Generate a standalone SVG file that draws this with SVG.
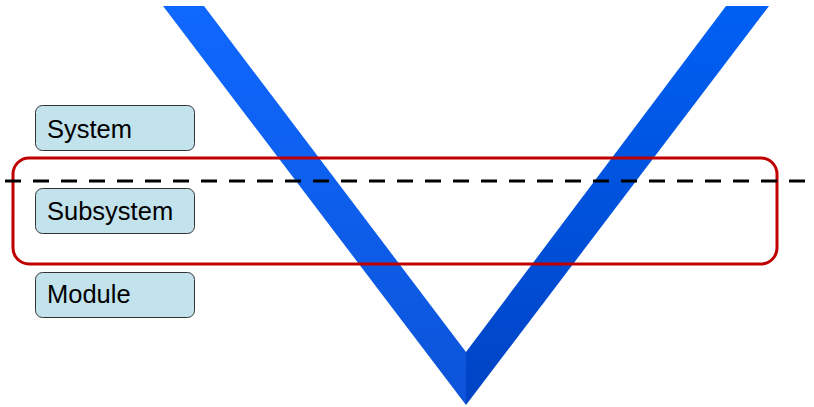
<svg xmlns="http://www.w3.org/2000/svg" width="814" height="407" viewBox="0 0 814 407">
<defs>
<linearGradient id="gL" x1="0" y1="0" x2="0" y2="1">
<stop offset="0" stop-color="#0f68ff"/>
<stop offset="1" stop-color="#0c54d8"/>
</linearGradient>
<linearGradient id="gR" x1="0" y1="0" x2="0" y2="1">
<stop offset="0" stop-color="#0060f4"/>
<stop offset="1" stop-color="#0043c4"/>
</linearGradient>
<style>
.box{fill:#c2e3ec;stroke:#333;stroke-width:1}
.lbl{font-family:"Liberation Sans",Arial,sans-serif;font-size:25.5px;fill:#000}
</style>
</defs>
<g id="v-shape">
<polygon points="163,6 204,6 466,352 466,405" fill="url(#gL)"/>
<polygon points="726,6 769,6 466,405 466,352" fill="url(#gR)"/>
</g>
<g id="system"><rect class="box" x="35.5" y="105.5" width="159" height="45" rx="7"/><text class="lbl" x="47" y="138">System</text></g>
<g id="subsystem"><rect class="box" x="35.5" y="188.5" width="159" height="45" rx="7"/><text class="lbl" x="47" y="220">Subsystem</text></g>
<g id="module"><rect class="box" x="35.5" y="272.5" width="159" height="45" rx="7"/><text class="lbl" x="47" y="303">Module</text></g>
<g id="connectors">
<rect id="highlight" x="13" y="158" width="764" height="106" rx="16" fill="none" stroke="#c00000" stroke-width="3"/>
<line x1="5" y1="181" x2="808" y2="181" stroke="#000" stroke-width="3" stroke-dasharray="16,12"/>
</g>
</svg>
